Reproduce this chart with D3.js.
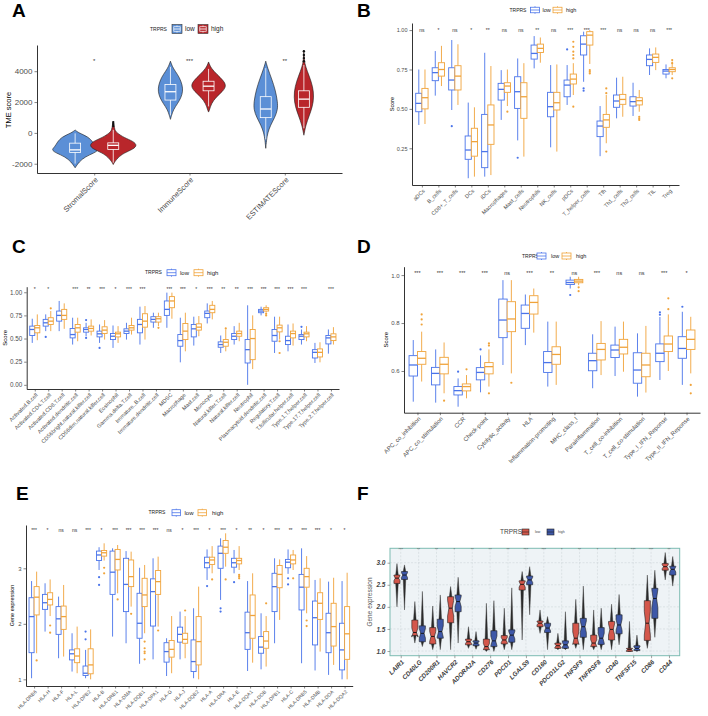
<!DOCTYPE html>
<html>
<head>
<meta charset="utf-8">
<script src="https://cdn.jsdelivr.net/npm/d3@7"></script>
<style>
body { margin: 0; background: #fff; }
</style>
</head>
<body>
<script>
// ---------------- data ----------------
// A: TME scores, violin profiles are [score, relative density]
var tmeCats = ["StromalScore", "ImmuneScore", "ESTIMATEScore"];
var tmeTicks = [-2000, 0, 2000, 4000];
var tmeSig = ["*", "***", "**"];
var tmeLowViolin = [
    [[190,0],[0,0.15],[-250,0.55],[-600,0.75],[-900,0.85],[-1100,1.0],[-1300,0.8],[-1550,0.42],[-1870,0.17],[-2260,0]],
    [[4650,0],[4300,0.08],[4000,0.2],[3600,0.38],[3100,0.5],[2700,0.52],[2300,0.45],[1900,0.3],[1500,0.12],[1100,0.04],[880,0]],
    [[4650,0],[4200,0.08],[3500,0.25],[2800,0.4],[2000,0.5],[1500,0.5],[1000,0.38],[500,0.2],[0,0.08],[-500,0.03],[-1000,0]]
];
var tmeHighViolin = [
    [[720,0],[500,0.04],[200,0.06],[0,0.15],[-300,0.45],[-550,0.85],[-800,1.0],[-1050,0.85],[-1300,0.45],[-1600,0.2],[-1900,0.05],[-2050,0]],
    [[4600,0],[4200,0.1],[3800,0.35],[3400,0.62],[3050,0.75],[2700,0.6],[2300,0.3],[1900,0.12],[1500,0.04],[1350,0]],
    [[5350,0],[4700,0.02],[4300,0.07],[3700,0.22],[3000,0.38],[2300,0.42],[1700,0.36],[1100,0.22],[500,0.08],[0,0.02],[-150,0]]
];
// box stats: [lower whisker, q1, median, q3, upper whisker]
var tmeLowBox = [[-1990,-1270,-1100,-665,-30],[1140,2130,2670,3140,4280],[-420,990,1550,2350,4200]];
var tmeHighBox = [[-1935,-1075,-806,-645,200],[1720,2730,3030,3350,4150],[300,1660,2190,2730,4400]];
var tmeLowOut = [[],[],[]];
var tmeHighOut = [[450,580,700],[],[4650,4850,5050,5300]];

// B: immune cells
var bCats = ["aDCs","B_cells","CD8+_T_cells","DCs","iDCs","Macrophages","Mast_cells","Neutrophils",
    "NK_cells","pDCs","T_helper_cells","Tfh","Th1_cells","Th2_cells","TIL","Treg"];
var bTicks = [0.25, 0.5, 0.75, 1.0];
var bSig = ["ns","*","ns","*","**","ns","ns","**","ns","***","***","***","ns","ns","ns","***"];
var bLow = [
    [0.398,0.482,0.535,0.599,0.75],[0.584,0.679,0.73,0.761,0.867],[0.493,0.62,0.683,0.761,0.937],
    [0.06,0.18,0.239,0.328,0.54],[0.07,0.127,0.229,0.465,0.856],[0.43,0.556,0.624,0.662,0.746],
    [0.30,0.503,0.609,0.704,0.82],[0.757,0.816,0.852,0.905,0.962],[0.256,0.45,0.514,0.605,0.778],
    [0.525,0.577,0.651,0.683,0.778],[0.672,0.842,0.911,0.964,0.99],[0.20,0.324,0.391,0.423,0.518],
    [0.44,0.51,0.55,0.588,0.698],[0.455,0.518,0.546,0.577,0.666],[0.715,0.774,0.814,0.842,0.884],
    [0.694,0.721,0.74,0.75,0.782]];
var bHigh = [
    [0.404,0.50,0.571,0.63,0.75],[0.645,0.708,0.75,0.793,0.90],[0.525,0.62,0.708,0.774,0.91],
    [0.07,0.20,0.292,0.377,0.51],[0.08,0.275,0.398,0.525,0.772],[0.518,0.605,0.645,0.666,0.75],
    [0.197,0.44,0.577,0.666,0.79],[0.793,0.858,0.884,0.911,0.953],[0.229,0.493,0.539,0.605,0.782],
    [0.588,0.658,0.689,0.721,0.79],[0.785,0.905,0.968,0.99,1.0],[0.282,0.383,0.43,0.465,0.588],
    [0.45,0.529,0.56,0.592,0.704],[0.482,0.525,0.552,0.571,0.62],[0.746,0.795,0.827,0.848,0.89],
    [0.715,0.736,0.75,0.761,0.80]];
var bLowOut = [[],[],[0.39],[],[],[],[0.19],[],[],[0.877],[0.63,0.615],[],[],[],[],[]];
var bHighOut = [[],[],[],[],[],[0.482],[],[],[],[0.926,0.894,0.863,0.842,0.82,0.514],[0.746,0.736,0.725],
    [0.63,0.60,0.229],[],[0.45,0.44,0.43],[],[0.81,0.79,0.694]];

// C: ssGSEA cells
var cCats = ["Activated.B.cell","Activated.CD4.T.cell","Activated.CD8.T.cell","Activated.dendritic.cell",
    "CD56bright.natural.killer.cell","CD56dim.natural.killer.cell","Eosinophil","Gamma.delta.T.cell",
    "Immature..B.cell","Immature.dendritic.cell","MDSC","Macrophage","Mast.cell","Monocyte",
    "Natural.killer.T.cell","Natural.killer.cell","Neutrophil","Plasmacytoid.dendritic.cell",
    "Regulatory.T.cell","T.follicular.helper.cell","Type.1.T.helper.cell","Type.17.T.helper.cell",
    "Type.2.T.helper.cell"];
var cTicks = [0, 0.25, 0.5, 0.75, 1.0];
var cSig = ["*","*","","***","**","***","*","***","***","","***","***","*","***","**","**","***","***",
    "***","***","***","","***"];
var cLow = [
    [0.453,0.533,0.598,0.634,0.714],[0.58,0.634,0.67,0.707,0.761],[0.58,0.688,0.75,0.797,0.906],
    [0.435,0.507,0.543,0.609,0.725],[0.525,0.569,0.598,0.616,0.67],[0.453,0.518,0.551,0.58,0.652],
    [0.399,0.489,0.525,0.554,0.641],[0.489,0.554,0.58,0.605,0.67],[0.435,0.562,0.652,0.707,0.844],
    [0.616,0.678,0.707,0.736,0.779],[0.616,0.75,0.815,0.906,0.996],[0.243,0.417,0.478,0.543,0.725],
    [0.424,0.518,0.605,0.652,0.736],[0.663,0.725,0.772,0.797,0.88],[0.344,0.406,0.435,0.464,0.533],
    [0.435,0.489,0.525,0.554,0.634],[0.0,0.236,0.38,0.489,0.859],[0.75,0.779,0.797,0.815,0.844],
    [0.344,0.471,0.533,0.598,0.736],[0.362,0.435,0.478,0.525,0.652],[0.435,0.489,0.525,0.543,0.598],
    [0.236,0.29,0.351,0.38,0.453],[0.337,0.442,0.507,0.533,0.598]];
var cHigh = [
    [0.482,0.562,0.616,0.641,0.761],[0.58,0.652,0.688,0.725,0.797],[0.605,0.707,0.75,0.815,0.88],
    [0.471,0.569,0.616,0.652,0.725],[0.533,0.58,0.609,0.634,0.707],[0.489,0.554,0.591,0.627,0.699],
    [0.453,0.518,0.551,0.569,0.634],[0.543,0.591,0.616,0.641,0.725],[0.489,0.623,0.688,0.768,0.851],
    [0.634,0.678,0.714,0.736,0.779],[0.714,0.833,0.906,0.953,0.996],[0.362,0.489,0.58,0.663,0.779],
    [0.525,0.591,0.623,0.659,0.743],[0.707,0.779,0.815,0.859,0.906],[0.362,0.417,0.46,0.489,0.598],
    [0.471,0.525,0.554,0.58,0.67],[0.17,0.272,0.5,0.598,0.75],[0.779,0.797,0.815,0.833,0.859],
    [0.489,0.572,0.616,0.645,0.736],[0.424,0.507,0.554,0.58,0.663],[0.471,0.518,0.551,0.569,0.634],
    [0.243,0.301,0.351,0.388,0.46],[0.435,0.478,0.518,0.551,0.623]];
var cLowOut = [[],[0.518],[],[],[0.699,0.507],[0.399],[],[],[],[],[],[],[],[],[],[],[],[],[],[],[0.627],[],[]];
var cHighOut = [[],[0.826],[],[],[],[],[],[],[],[0.616],[],[],[],[],[0.609],[],[],[0.768,0.75],[0.471,0.344],
    [],[],[],[]];

// D: immune functions
var dCats = ["APC_co_inhibition","APC_co_stimulation","CCR","Check-point","Cytolytic_activity","HLA",
    "Inflammation-promoting","MHC_class_I","Parainflammation","T_cell_co-inhibition",
    "T_cell_co-stimulation","Type_I_IFN_Reponse","Type_II_IFN_Reponse"];
var dTicks = [0.6, 0.8, 1.0];
var dSig = ["***","***","***","***","ns","***","**","ns","***","ns","ns","***","*"];
var dLow = [
    [0.472,0.579,0.625,0.664,0.729],[0.468,0.542,0.59,0.615,0.69],[0.451,0.5,0.518,0.535,0.569],
    [0.511,0.563,0.594,0.614,0.665],[0.625,0.739,0.8125,0.9,0.979],[0.708,0.778,0.84,0.875,0.919],
    [0.535,0.594,0.635,0.681,0.806],[0.944,0.961,0.969,0.979,0.993],[0.528,0.601,0.643,0.674,0.753],
    [0.579,0.656,0.6875,0.708,0.785],[0.493,0.549,0.604,0.676,0.757],[0.5625,0.639,0.674,0.713,0.825],
    [0.542,0.653,0.694,0.743,0.847]];
var dHigh = [
    [0.556,0.628,0.653,0.681,0.764],[0.507,0.588,0.628,0.657,0.719],[0.486,0.517,0.535,0.546,0.583],
    [0.535,0.588,0.618,0.635,0.69],[0.59,0.764,0.817,0.889,0.979],[0.76,0.8375,0.886,0.914,0.944],
    [0.542,0.628,0.669,0.701,0.806],[0.958,0.968,0.975,0.982,0.993],[0.583,0.646,0.69,0.715,0.808],
    [0.597,0.671,0.699,0.732,0.806],[0.51,0.576,0.625,0.674,0.788],[0.6,0.681,0.7125,0.746,0.836],
    [0.59,0.69,0.732,0.771,0.826]];
var dLowOut = [[],[],[0.597],[0.69],[],[],[],[0.917],[],[],[],[0.835,0.845],[0.868]];
var dHighOut = [[0.836,0.815,0.794],[0.476],[0.607],[0.715,0.706,0.507],[0.551],[],[],[0.949,0.933],[],[],[],
    [0.903,0.858],[0.542,0.507]];

// E: HLA genes
var eCats = ["HLA-DRB6","HLA-H","HLA-F","HLA-L","HLA-DPB2","HLA-B","HLA-DRB1","HLA-DMA","HLA-DQB1",
    "HLA-DPA1","HLA-G","HLA-J","HLA-DQB2","HLA-A","HLA-DRA","HLA-E","HLA-DQA1","HLA-DOB","HLA-DPB1",
    "HLA-C","HLA-DRB5","HLA-DMB","HLA-DOA","HLA-DQA2"];
var eTicks = [1, 2, 3];
var eSig = ["***","*","ns","ns","***","*","***","***","***","***","ns","*","***","*","***","*","**","*",
    "***","**","***","***","*","*"];
var eLow = [
    [1.02,1.48,2.13,2.47,2.77],[1.86,2.26,2.38,2.53,2.73],[1.38,1.81,2.09,2.31,2.49],[1.14,1.35,1.46,1.53,1.83],
    [1.02,1.07,1.11,1.24,1.53],[2.97,3.14,3.24,3.31,3.38],[1.77,2.53,2.93,3.31,3.36],[1.65,2.22,2.71,3.18,3.31],
    [1.28,1.74,2.01,2.55,3.01],[1.36,1.96,2.58,2.81,3.18],[1.06,1.31,1.50,1.66,1.74],[1.36,1.67,1.81,1.94,2.22],
    [1.02,1.14,1.32,1.71,2.28],[2.79,3.01,3.10,3.20,3.34],[2.43,3.0,3.27,3.40,3.54],[2.91,3.02,3.10,3.18,3.33],
    [1.15,1.54,1.84,2.21,2.77],[1.18,1.47,1.58,1.77,2.19],[1.65,2.22,2.67,2.91,3.18],[2.90,3.01,3.11,3.16,3.34],
    [1.29,2.25,2.66,2.89,3.36],[1.16,1.62,2.11,2.41,2.79],[1.08,1.48,1.84,2.19,2.76],[1.0,1.17,1.53,2.01,2.77]];
var eHigh = [
    [1.47,2.16,2.48,2.67,2.94],[2.14,2.34,2.44,2.56,2.80],[1.41,1.9,2.13,2.32,2.70],[1.11,1.30,1.42,1.55,1.95],
    [1.0,1.10,1.26,1.55,1.90],[3.14,3.22,3.28,3.32,3.45],[2.55,2.97,3.16,3.34,3.42],[2.31,2.67,2.85,3.15,3.30],
    [1.83,2.31,2.52,2.82,3.06],[1.95,2.53,2.76,2.96,3.21],[1.11,1.40,1.54,1.70,2.14],[1.38,1.65,1.72,1.83,2.14],
    [1.0,1.26,1.68,2.13,2.67],[2.91,3.07,3.15,3.20,3.40],[3.03,3.27,3.38,3.50,3.63],[2.97,3.08,3.14,3.18,3.40],
    [1.30,1.74,2.15,2.52,2.91],[1.23,1.56,1.69,1.86,2.14],[2.07,2.65,2.89,3.05,3.16],[2.97,3.08,3.15,3.24,3.33],
    [2.19,2.66,2.85,3.0,3.22],[1.50,2.08,2.37,2.56,2.82],[1.26,1.60,1.95,2.37,2.83],[1.0,1.36,1.82,2.31,2.92]];
var eLowOut = [[],[],[],[],[1.86,1.72],[2.84,2.70],[],[],[],[],[],[],[],[2.68],[2.28,2.22],[2.75],[],[],[],
    [2.82,2.71],[],[],[],[]];
var eHighOut = [[1.34],[1.97,1.84],[],[],[],[3.01,2.91],[2.44],[2.18],[1.68,1.56,1.50,1.47,1.36],[1.88],[],
    [2.24],[],[2.80],[2.80],[2.88,2.85,2.82],[],[2.37],[],[2.82],[2.06,1.96],[],[],[]];

// F: immune checkpoint genes
var fCats = ["LAIR1","CD40LG","CD200R1","HAVCR2","ADORA2A","CD276","PDCD1","LGALS9","CD160","PDCD1LG2",
    "TNFSF9","TNFRSF8","CD40","TNFSF15","CD86","CD44"];
var fTicks = [1.0, 1.5, 2.0, 2.5, 3.0];
var fSig = ["***","**","**","*","**","**","**","***","***","*","**","*","*","***","***","**"];
var fLow = [
    [2.0,2.53,2.65,2.72,2.98],[1.18,1.35,1.42,1.70,2.12],[1.03,1.16,1.33,1.53,2.02],[1.03,1.64,1.97,2.23,2.46],
    [1.06,1.14,1.21,1.27,1.55],[0.99,1.03,1.10,1.27,2.08],[1.03,1.16,1.25,1.35,1.97],[1.25,2.38,2.51,2.59,2.80],
    [1.40,1.55,1.63,1.68,1.93],[1.03,1.06,1.12,1.18,1.40],[1.06,1.16,1.29,1.63,2.17],[1.03,1.10,1.18,1.36,1.93],
    [1.03,1.25,1.49,1.67,2.06],[0.99,0.99,1.03,1.06,1.67],[1.06,1.24,1.63,2.14,2.72],[2.61,2.83,2.91,2.98,3.23]];
var fHigh = [
    [1.93,2.62,2.72,2.80,2.95],[1.10,1.21,1.40,1.57,2.35],[1.03,1.29,1.44,1.72,2.27],[1.18,1.89,2.12,2.27,2.67],
    [1.04,1.12,1.18,1.23,1.44],[0.99,1.10,1.23,1.46,2.14],[1.03,1.20,1.36,1.48,2.43],[1.82,2.50,2.61,2.70,2.91],
    [1.03,1.42,1.52,1.63,1.78],[1.03,1.06,1.14,1.23,1.89],[1.03,1.31,1.55,1.74,2.47],[1.03,1.15,1.29,1.53,1.97],
    [1.14,1.39,1.59,1.82,2.28],[0.99,1.01,1.06,1.12,1.36],[1.31,1.74,2.19,2.42,2.83],[2.47,2.72,2.85,2.92,3.14]];

// ---------------- drawing ----------------
var FONT = "'Liberation Sans', Arial, sans-serif";
var colA = ["#5b8fd6", "#b9262b"];
var colBox = ["#4a74ea", "#f0a33a"];
var colF = ["#d4574b", "#3e58a8"];

var svg = d3.select("body").append("svg")
    .attr("width", 708)
    .attr("height", 716)
    .style("font-family", FONT);

function panelLetter(t, x, y) {
    svg.append("text")
        .attr("x", x).attr("y", y)
        .attr("font-size", 19).attr("font-weight", "bold")
        .text(t);
}

function legend(o) {
    var g = svg.append("g");
    g.append("text").attr("x", o.title).attr("y", o.y).attr("dy", "0.35em")
        .attr("font-size", o.tFs).attr("fill", o.tCol || "#222").text("TRPRS");
    [[o.k1, o.l1, "low"], [o.k2, o.l2, "high"]].forEach(function(k, i) {
        var col = o.cols[i];
        var kx = k[0], ky = o.y - o.kh / 2;
        if (o.kind == "violin") {
            g.append("rect").attr("x", kx).attr("y", ky).attr("width", o.kw).attr("height", o.kh)
                .attr("fill", col).attr("stroke", "#333").attr("stroke-width", 0.6);
            g.append("line").attr("x1", kx + o.kw / 2).attr("x2", kx + o.kw / 2)
                .attr("y1", ky + 1).attr("y2", ky + o.kh - 1).attr("stroke", "#fff").attr("stroke-width", 0.7);
            g.append("rect").attr("x", kx + 1.8).attr("y", ky + o.kh * 0.25).attr("width", o.kw - 3.6)
                .attr("height", o.kh * 0.5).attr("fill", col).attr("stroke", "#fff").attr("stroke-width", 0.7);
            g.append("line").attr("x1", kx + 1.8).attr("x2", kx + o.kw - 1.8)
                .attr("y1", o.y).attr("y2", o.y).attr("stroke", "#fff").attr("stroke-width", 0.9);
        } else if (o.kind == "filled") {
            g.append("rect").attr("x", kx).attr("y", ky).attr("width", o.kw).attr("height", o.kh)
                .attr("fill", col).attr("stroke", "#222").attr("stroke-width", 0.6);
            g.append("line").attr("x1", kx).attr("x2", kx + o.kw)
                .attr("y1", o.y).attr("y2", o.y).attr("stroke", "#222").attr("stroke-width", 0.6);
        } else {
            g.append("line").attr("x1", kx + o.kw / 2).attr("x2", kx + o.kw / 2)
                .attr("y1", ky - 1).attr("y2", ky + o.kh + 1).attr("stroke", col).attr("stroke-width", 0.8);
            g.append("rect").attr("x", kx).attr("y", ky).attr("width", o.kw).attr("height", o.kh)
                .attr("fill", "#fff").attr("stroke", col).attr("stroke-width", 0.8);
            g.append("line").attr("x1", kx).attr("x2", kx + o.kw)
                .attr("y1", o.y).attr("y2", o.y).attr("stroke", col).attr("stroke-width", 0.8);
        }
        g.append("text").attr("x", k[1]).attr("y", o.y).attr("dy", "0.35em")
            .attr("font-size", o.lFs).attr("fill", o.tCol || "#222").text(k[2]);
    });
}

function yTitle(t, x, y, fs, col) {
    svg.append("text")
        .attr("transform", "translate(" + x + "," + y + ") rotate(-90)")
        .attr("text-anchor", "middle").attr("dy", "0.35em")
        .attr("font-size", fs).attr("fill", col || "#000")
        .text(t);
}

function xAxis(x, bottom, fs, opts) {
    opts = opts || {};
    var ax = svg.append("g")
        .attr("transform", "translate(0," + bottom + ")")
        .call(d3.axisBottom(x).tickSize(2.5).tickSizeOuter(0));
    ax.attr("font-family", FONT);
    ax.select(".domain").attr("stroke", opts.noLine ? "none" : "#000").attr("stroke-width", 0.8);
    ax.selectAll(".tick line").attr("stroke", opts.tickCol || "#333").attr("stroke-width", 0.6);
    ax.selectAll(".tick text")
        .attr("y", 0).attr("dy", "0.72em")
        .attr("transform", "translate(0," + (opts.gap || 3.5) + ") rotate(-45)")
        .attr("text-anchor", "end")
        .attr("font-size", fs)
        .attr("fill", opts.col || "#4d4d4d")
        .attr("font-weight", opts.bold ? "bold" : null)
        .attr("font-style", opts.bold ? "italic" : null);
    return ax;
}

function yAxis(y, left, ticks, fmt, fs, opts) {
    opts = opts || {};
    var ax = svg.append("g")
        .attr("transform", "translate(" + left + ",0)")
        .call(d3.axisLeft(y).tickValues(ticks).tickFormat(fmt).tickSize(2.5).tickSizeOuter(0).tickPadding(2));
    ax.attr("font-family", FONT);
    ax.select(".domain").attr("stroke", opts.noLine ? "none" : "#000").attr("stroke-width", 0.8);
    ax.selectAll(".tick line").attr("stroke", opts.tickCol || "#333").attr("stroke-width", 0.6);
    ax.selectAll(".tick text")
        .attr("font-size", fs)
        .attr("fill", opts.col || "#4d4d4d")
        .attr("font-weight", opts.bold ? "bold" : null)
        .attr("font-style", opts.bold ? "italic" : null);
    return ax;
}

function sigLabels(x, y, cats, sig, v, fs, col) {
    svg.append("g").selectAll("text")
        .data(sig)
        .join("text")
        .attr("x", function(d, i) { return x(cats[i]); })
        .attr("y", y(v))
        .attr("dy", "0.35em")
        .attr("text-anchor", "middle")
        .attr("font-size", fs)
        .attr("fill", col || "#333")
        .text(function(d) { return d; });
}

// ----- panel A: violins -----
function panelA() {
    var left = 37, right = 342, top = 45, bottom = 173;
    var x = d3.scalePoint().domain(tmeCats).range([left, right]).padding(0.6);
    var y = d3.scaleLinear().domain([-2600, 5700]).range([bottom, top]);
    var step = x.step(), off = 0.2 * step, bw = 0.115 * step;
    var w = d3.scaleLinear().domain([0, 1]).range([0, 0.25 * step]);
    var g = svg.append("g");

    var groups = [
        [tmeLowViolin, tmeLowBox, tmeLowOut, -1, colA[0]],
        [tmeHighViolin, tmeHighBox, tmeHighOut, 1, colA[1]]
    ];
    groups.forEach(function(grp) {
        tmeCats.forEach(function(c, i) {
            var cx = x(c) + grp[3] * off;
            var area = d3.area().curve(d3.curveBasis)
                .y(function(d) { return y(d[0]); })
                .x0(function(d) { return cx - w(d[1]); })
                .x1(function(d) { return cx + w(d[1]); });
            g.append("path").datum(grp[0][i]).attr("d", area)
                .attr("fill", grp[4]).attr("stroke", "#1a1a1a").attr("stroke-width", 0.6);
            var s = grp[1][i];
            g.append("line").attr("x1", cx).attr("x2", cx).attr("y1", y(s[4])).attr("y2", y(s[0]))
                .attr("stroke", "#fff").attr("stroke-width", 0.8);
            g.append("rect").attr("x", cx - bw / 2).attr("y", y(s[3])).attr("width", bw)
                .attr("height", y(s[1]) - y(s[3]))
                .attr("fill", grp[4]).attr("stroke", "#fff").attr("stroke-width", 0.8);
            g.append("line").attr("x1", cx - bw / 2).attr("x2", cx + bw / 2).attr("y1", y(s[2])).attr("y2", y(s[2]))
                .attr("stroke", "#fff").attr("stroke-width", 1.3);
            g.selectAll(null).data(grp[2][i]).join("circle")
                .attr("cx", cx).attr("cy", function(d) { return y(d); }).attr("r", 1.2).attr("fill", "#111");
        });
    });

    yAxis(y, left, tmeTicks, function(d) { return String(d); }, 8, {});
    xAxis(x, bottom, 7.5, { gap: 3.5 });
    yTitle("TME score", 8, 110, 7.5);
    sigLabels(x, y, tmeCats, tmeSig, 4650, 6);
}

// ----- panels B-E: grouped boxplots -----
function boxPanel(o) {
    var x = d3.scalePoint().domain(o.cats).range([o.left, o.right]).padding(0.6);
    var y = d3.scaleLinear().domain(o.dom).range([o.bottom, o.top]);
    var step = x.step(), bw = 0.375 * step, off = 0.1875 * step;
    var g = svg.append("g");

    yAxis(y, o.left, o.ticks, d3.format(o.fmt), o.tickFs, {});
    xAxis(x, o.bottom, o.labFs, { gap: 3.5 });

    [[o.low, o.lowOut, -1, colBox[0]], [o.high, o.highOut, 1, colBox[1]]].forEach(function(grp) {
        var col = grp[3];
        var bx = g.append("g").selectAll("g")
            .data(grp[0])
            .join("g")
            .attr("transform", function(d, i) { return "translate(" + (x(o.cats[i]) + grp[2] * off) + ",0)"; });
        bx.append("line").attr("y1", function(d) { return y(d[4]); }).attr("y2", function(d) { return y(d[3]); })
            .attr("stroke", col).attr("stroke-width", 0.9);
        bx.append("line").attr("y1", function(d) { return y(d[1]); }).attr("y2", function(d) { return y(d[0]); })
            .attr("stroke", col).attr("stroke-width", 0.9);
        bx.append("rect").attr("x", -bw / 2).attr("width", bw)
            .attr("y", function(d) { return y(d[3]); })
            .attr("height", function(d) { return y(d[1]) - y(d[3]); })
            .attr("fill", "#fff").attr("stroke", col).attr("stroke-width", 0.9);
        bx.append("line").attr("x1", -bw / 2).attr("x2", bw / 2)
            .attr("y1", function(d) { return y(d[2]); }).attr("y2", function(d) { return y(d[2]); })
            .attr("stroke", col).attr("stroke-width", 1.3);
        bx.each(function(d, i) {
            d3.select(this).selectAll("circle").data(grp[1][i]).join("circle")
                .attr("cx", 0).attr("cy", function(v) { return y(v); }).attr("r", 1.1).attr("fill", col);
        });
    });

    yTitle(o.title, o.titleX, (o.top + o.bottom) / 2, o.titleFs);
    sigLabels(x, y, o.cats, o.sig, o.sigY, o.sigFs);
}

// ----- panel F: notched boxplots -----
function panelF() {
    var left = 390, right = 679.7, top = 548.3, bottom = 655.7;
    var x = d3.scalePoint().domain(fCats).range([left, right]).padding(0.6);
    var y = d3.scaleLinear().domain([0.894, 3.326]).range([bottom, top]);
    var step = x.step(), bw = 0.34 * step, off = 0.21 * step;
    var g = svg.append("g");

    g.append("rect").attr("x", left).attr("y", top).attr("width", right - left).attr("height", bottom - top)
        .attr("fill", "#eef3f6");
    g.selectAll(".hg").data(fTicks).join("line")
        .attr("x1", left).attr("x2", right)
        .attr("y1", function(d) { return y(d); }).attr("y2", function(d) { return y(d); })
        .attr("stroke", "#c9d0d5").attr("stroke-width", 0.5).attr("stroke-dasharray", "2,1.5");
    g.selectAll(".vg").data(fCats).join("line")
        .attr("y1", top).attr("y2", bottom)
        .attr("x1", function(d) { return x(d); }).attr("x2", function(d) { return x(d); })
        .attr("stroke", "#c9d0d5").attr("stroke-width", 0.5).attr("stroke-dasharray", "2,1.5");

    [[fLow, -1, colF[0]], [fHigh, 1, colF[1]]].forEach(function(grp) {
        grp[0].forEach(function(s, i) {
            var cx = x(fCats[i]) + grp[1] * off;
            var ww = 1.3;
            g.append("path")
                .attr("d", "M" + cx + "," + y(s[4]) + "L" + (cx + ww) + "," + y(s[3]) + "L" + (cx + ww) + "," + y(s[1]) +
                    "L" + cx + "," + y(s[0]) + "L" + (cx - ww) + "," + y(s[1]) + "L" + (cx - ww) + "," + y(s[3]) + "Z")
                .attr("fill", "#2a2a2a").attr("stroke", "#2a2a2a").attr("stroke-width", 0.4);
            var nd = 0.3 * (s[3] - s[1]);
            var l = cx - bw / 2, r = cx + bw / 2, ins = bw * 0.22;
            var pts = [[l, y(s[3])], [r, y(s[3])], [r, y(s[2] + nd)], [r - ins, y(s[2])], [r, y(s[2] - nd)],
                [r, y(s[1])], [l, y(s[1])], [l, y(s[2] - nd)], [l + ins, y(s[2])], [l, y(s[2] + nd)]];
            g.append("path").attr("d", d3.line()(pts) + "Z")
                .attr("fill", grp[2]).attr("stroke", "#222").attr("stroke-width", 0.6);
            g.append("line").attr("x1", l + ins).attr("x2", r - ins).attr("y1", y(s[2])).attr("y2", y(s[2]))
                .attr("stroke", "#111").attr("stroke-width", 0.9);
        });
    });

    g.append("rect").attr("x", left).attr("y", top).attr("width", right - left).attr("height", bottom - top)
        .attr("fill", "none").attr("stroke", "#7cbcb2").attr("stroke-width", 1);

    yAxis(y, left, fTicks, d3.format(".1f"), 6.5, { noLine: true, bold: true, col: "#444", tickCol: "#666" });
    xAxis(x, bottom, 6.3, { noLine: true, bold: true, col: "#3a3a3a", tickCol: "#666", gap: 3.5 });
    yTitle("Gene expression", 370, (top + bottom) / 2, 6.5, "#555");
    sigLabels(x, y, fCats, fSig, 3.29, 4, "#555");
}

// ---------------- compose ----------------
panelLetter("A", 12, 17);
panelLetter("B", 357, 17);
panelLetter("C", 12, 253);
panelLetter("D", 357, 253);
panelLetter("E", 16, 500);
panelLetter("F", 357, 500);

panelA();
legend({ kind: "violin", y: 29, title: 150, k1: 172, l1: 185, k2: 198, l2: 211, kw: 10, kh: 9,
    cols: colA, tFs: 5, lFs: 6.5 });

boxPanel({ cats: bCats, low: bLow, high: bHigh, lowOut: bLowOut, highOut: bHighOut, sig: bSig,
    left: 412, right: 679, top: 23, bottom: 185, dom: [0.017, 1.045], ticks: bTicks, fmt: ".2f",
    sigY: 1.0, title: "Score", titleX: 392, tickFs: 5.5, labFs: 5.5, sigFs: 5, titleFs: 5.5 });
legend({ kind: "box", y: 10, title: 509.5, k1: 530.5, l1: 542.5, k2: 553, l2: 566, kw: 9, kh: 5.5,
    cols: colBox, tFs: 5, lFs: 5.5 });

boxPanel({ cats: cCats, low: cLow, high: cHigh, lowOut: cLowOut, highOut: cHighOut, sig: cSig,
    left: 26.7, right: 339, top: 286.7, bottom: 389, dom: [-0.045, 1.06], ticks: cTicks, fmt: ".2f",
    sigY: 1.03, title: "Score", titleX: 5, tickFs: 6.3, labFs: 5.5, sigFs: 5, titleFs: 6 });
legend({ kind: "box", y: 272.7, title: 145, k1: 167, l1: 180, k2: 194, l2: 207, kw: 9, kh: 6,
    cols: colBox, tFs: 5, lFs: 6 });

boxPanel({ cats: dCats, low: dLow, high: dHigh, lowOut: dLowOut, highOut: dHighOut, sig: dSig,
    left: 404, right: 700, top: 266.7, bottom: 412.7, dom: [0.426, 1.035], ticks: dTicks, fmt: ".1f",
    sigY: 1.007, title: "Score", titleX: 386, tickFs: 6, labFs: 6, sigFs: 5.5, titleFs: 6 });
legend({ kind: "box", y: 256, title: 522, k1: 537, l1: 551, k2: 562, l2: 576, kw: 9, kh: 6,
    cols: colBox, tFs: 5, lFs: 5.5 });

boxPanel({ cats: eCats, low: eLow, high: eHigh, lowOut: eLowOut, highOut: eHighOut, sig: eSig,
    left: 26, right: 352.7, top: 525, bottom: 686, dom: [0.88, 3.78], ticks: eTicks, fmt: "d",
    sigY: 3.69, title: "Gene expression", titleX: 11.7, tickFs: 6, labFs: 5, sigFs: 5, titleFs: 5.5 });
legend({ kind: "box", y: 512.7, title: 148.5, k1: 172, l1: 184.5, k2: 198, l2: 212, kw: 8.5, kh: 6,
    cols: colBox, tFs: 5, lFs: 6 });

panelF();
legend({ kind: "filled", y: 532, title: 500, k1: 522, l1: 535, k2: 547, l2: 558, kw: 7, kh: 6,
    cols: colF, tFs: 6.5, lFs: 3.5, tCol: "#444" });
</script>
</body>
</html>
